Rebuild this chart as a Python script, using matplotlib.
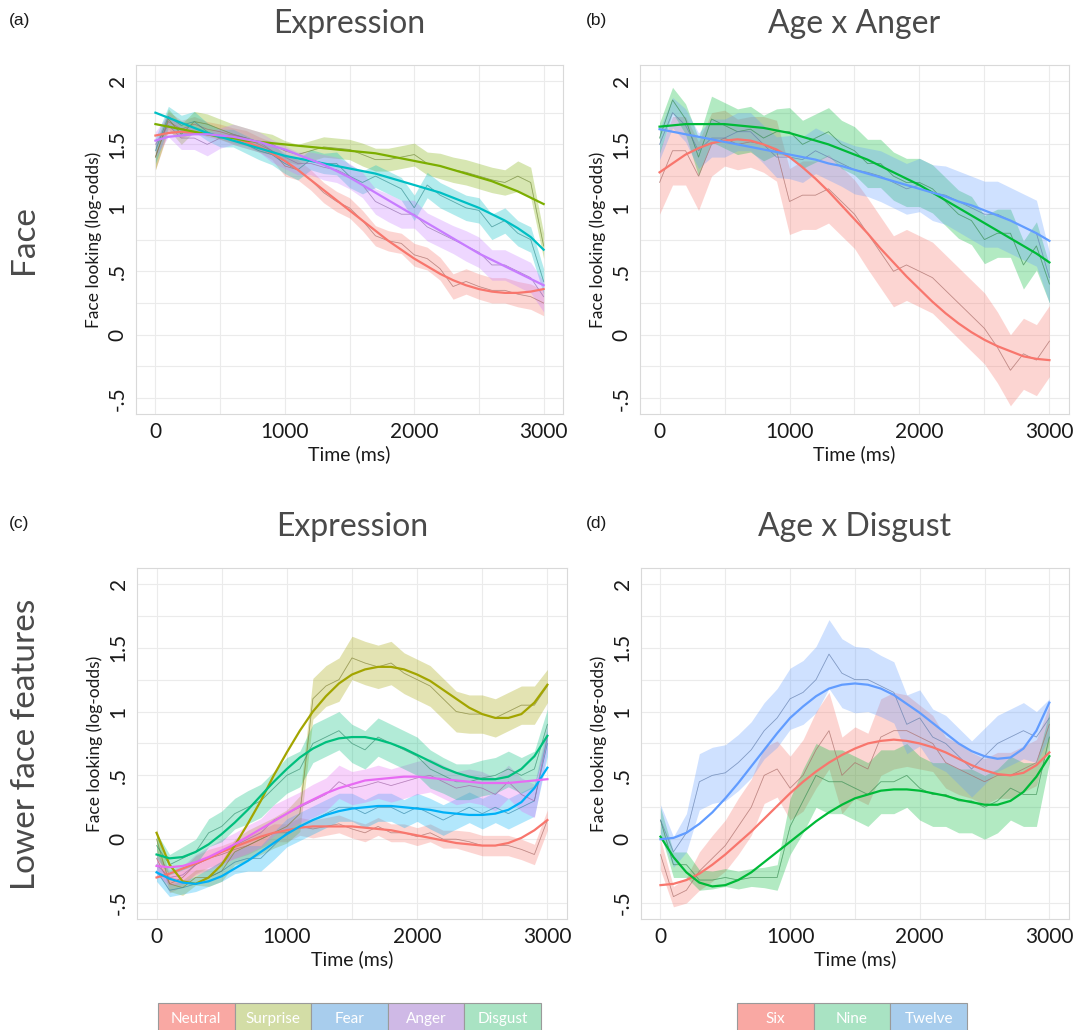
import numpy as np
import matplotlib
matplotlib.use("Agg")
import matplotlib.pyplot as plt
from matplotlib.patches import Rectangle

plt.rcParams['font.family'] = ['Lato', 'DejaVu Sans']

# time grid (ms)
time = np.arange(0, 3001, 100)

# ---------------- panel (a): Face, Expression ----------------
a_neutral_mean = [1.40, 1.68, 1.62, 1.66, 1.62, 1.60, 1.57, 1.55, 1.50, 1.45, 1.33, 1.30, 1.22, 1.12, 1.05, 1.00,
                  0.90, 0.78, 0.74, 0.72, 0.63, 0.60, 0.52, 0.38, 0.42, 0.38, 0.35, 0.35, 0.32, 0.30, 0.25]
a_neutral_se = [0.10, 0.08, 0.07, 0.06, 0.06, 0.06, 0.06, 0.06, 0.06, 0.07, 0.08, 0.08, 0.08, 0.08, 0.08, 0.08,
                0.08, 0.08, 0.08, 0.08, 0.09, 0.09, 0.09, 0.10, 0.10, 0.10, 0.10, 0.10, 0.10, 0.10, 0.10]
a_neutral_fit = [1.57, 1.59, 1.60, 1.59, 1.58, 1.57, 1.55, 1.52, 1.48, 1.43, 1.37, 1.30, 1.22, 1.14, 1.06, 0.98,
                 0.90, 0.82, 0.74, 0.67, 0.60, 0.54, 0.48, 0.43, 0.39, 0.36, 0.34, 0.33, 0.33, 0.34, 0.36]

a_surprise_mean = [1.40, 1.70, 1.58, 1.68, 1.66, 1.62, 1.58, 1.55, 1.52, 1.50, 1.45, 1.42, 1.45, 1.48, 1.47, 1.46,
                   1.42, 1.38, 1.38, 1.40, 1.42, 1.35, 1.33, 1.30, 1.28, 1.25, 1.22, 1.20, 1.25, 1.20, 0.70]
a_surprise_se = [0.10, 0.08, 0.08, 0.08, 0.08, 0.08, 0.08, 0.08, 0.08, 0.08, 0.08, 0.08, 0.08, 0.08, 0.08, 0.08,
                 0.09, 0.09, 0.09, 0.09, 0.09, 0.09, 0.10, 0.10, 0.10, 0.10, 0.10, 0.10, 0.12, 0.12, 0.10]
a_surprise_fit = [1.66, 1.64, 1.62, 1.60, 1.58, 1.56, 1.55, 1.53, 1.52, 1.51, 1.50, 1.49, 1.48, 1.47, 1.46, 1.45,
                  1.44, 1.43, 1.41, 1.39, 1.37, 1.35, 1.33, 1.30, 1.27, 1.24, 1.21, 1.17, 1.13, 1.08, 1.03]

a_fear_mean = [1.45, 1.72, 1.65, 1.68, 1.60, 1.55, 1.55, 1.50, 1.45, 1.42, 1.35, 1.30, 1.38, 1.35, 1.35, 1.25,
               1.20, 1.25, 1.20, 1.15, 1.00, 1.18, 1.10, 1.05, 1.00, 0.98, 0.85, 0.90, 0.80, 0.75, 0.42]
a_fear_se = [0.10, 0.08, 0.08, 0.08, 0.07, 0.07, 0.07, 0.07, 0.07, 0.08, 0.08, 0.08, 0.08, 0.08, 0.09, 0.09,
             0.09, 0.09, 0.09, 0.09, 0.10, 0.10, 0.10, 0.10, 0.10, 0.10, 0.10, 0.10, 0.10, 0.10, 0.10]
a_fear_fit = [1.75, 1.71, 1.67, 1.63, 1.59, 1.56, 1.53, 1.50, 1.47, 1.44, 1.41, 1.39, 1.37, 1.35, 1.33, 1.31,
              1.29, 1.27, 1.24, 1.21, 1.18, 1.15, 1.12, 1.08, 1.04, 1.00, 0.95, 0.90, 0.84, 0.77, 0.67]

a_anger_mean = [1.50, 1.65, 1.55, 1.55, 1.50, 1.55, 1.58, 1.55, 1.52, 1.45, 1.40, 1.35, 1.35, 1.32, 1.30, 1.25,
                1.18, 1.05, 1.00, 0.95, 0.95, 0.85, 0.80, 0.75, 0.70, 0.65, 0.55, 0.55, 0.50, 0.45, 0.30]
a_anger_se = [0.10, 0.09, 0.09, 0.09, 0.09, 0.08, 0.08, 0.08, 0.08, 0.09, 0.09, 0.09, 0.09, 0.10, 0.10, 0.10,
              0.10, 0.10, 0.11, 0.11, 0.11, 0.11, 0.11, 0.11, 0.12, 0.12, 0.12, 0.12, 0.12, 0.12, 0.12]
a_anger_fit = [1.53, 1.56, 1.57, 1.58, 1.58, 1.57, 1.56, 1.54, 1.52, 1.49, 1.46, 1.42, 1.38, 1.34, 1.29, 1.24,
               1.18, 1.12, 1.06, 1.00, 0.94, 0.88, 0.82, 0.76, 0.70, 0.64, 0.59, 0.54, 0.49, 0.44, 0.39]

# ---------------- panel (b): Face, Age x Anger ----------------
b_six_mean = [1.20, 1.45, 1.45, 1.25, 1.50, 1.55, 1.50, 1.52, 1.50, 1.45, 1.05, 1.10, 1.10, 1.15, 1.05, 0.95,
              0.80, 0.65, 0.50, 0.55, 0.50, 0.45, 0.35, 0.25, 0.15, 0.05, -0.10, -0.28, -0.15, -0.20, -0.05]
b_six_se = [0.25, 0.27, 0.27, 0.27, 0.25, 0.22, 0.20, 0.20, 0.22, 0.24, 0.26, 0.27, 0.27, 0.27, 0.27, 0.27,
            0.28, 0.28, 0.28, 0.28, 0.28, 0.28, 0.28, 0.28, 0.28, 0.28, 0.28, 0.28, 0.28, 0.28, 0.28]
b_six_fit = [1.28, 1.35, 1.42, 1.47, 1.51, 1.53, 1.54, 1.53, 1.50, 1.46, 1.40, 1.32, 1.23, 1.13, 1.02, 0.91,
             0.80, 0.68, 0.57, 0.46, 0.36, 0.26, 0.17, 0.09, 0.02, -0.04, -0.09, -0.13, -0.17, -0.19, -0.20]

b_nine_mean = [1.55, 1.85, 1.70, 1.40, 1.70, 1.65, 1.60, 1.62, 1.55, 1.60, 1.60, 1.50, 1.55, 1.60, 1.50, 1.45,
               1.35, 1.35, 1.25, 1.20, 1.20, 1.15, 1.05, 0.95, 0.90, 0.75, 0.80, 0.80, 0.55, 0.70, 0.40]
b_nine_se = [0.12, 0.10, 0.12, 0.15, 0.18, 0.18, 0.18, 0.18, 0.18, 0.18, 0.19, 0.19, 0.19, 0.19, 0.19, 0.19,
             0.19, 0.19, 0.19, 0.19, 0.19, 0.19, 0.19, 0.19, 0.19, 0.19, 0.19, 0.19, 0.19, 0.19, 0.15]
b_nine_fit = [1.64, 1.65, 1.66, 1.66, 1.66, 1.66, 1.65, 1.64, 1.63, 1.61, 1.59, 1.56, 1.53, 1.50, 1.46, 1.42,
              1.38, 1.33, 1.28, 1.23, 1.18, 1.12, 1.06, 1.00, 0.94, 0.88, 0.82, 0.76, 0.70, 0.64, 0.57]

b_twelve_mean = [1.50, 1.75, 1.65, 1.45, 1.55, 1.55, 1.60, 1.60, 1.50, 1.40, 1.40, 1.38, 1.45, 1.40, 1.35, 1.30,
                 1.28, 1.25, 1.20, 1.15, 1.18, 1.12, 1.10, 1.05, 1.00, 0.95, 0.95, 0.90, 0.85, 0.80, 0.45]
b_twelve_se = [0.12, 0.12, 0.13, 0.14, 0.15, 0.15, 0.15, 0.15, 0.15, 0.16, 0.17, 0.18, 0.18, 0.18, 0.18, 0.19,
               0.19, 0.20, 0.20, 0.20, 0.21, 0.22, 0.23, 0.24, 0.25, 0.26, 0.26, 0.26, 0.26, 0.26, 0.20]
b_twelve_fit = [1.62, 1.60, 1.58, 1.56, 1.54, 1.52, 1.50, 1.48, 1.46, 1.44, 1.42, 1.40, 1.38, 1.35, 1.33, 1.30,
                1.27, 1.24, 1.21, 1.18, 1.15, 1.12, 1.09, 1.05, 1.02, 0.98, 0.94, 0.90, 0.85, 0.80, 0.74]

# ---------------- panel (c): Lower face, Expression ----------------
c_neutral_mean = [-0.15, -0.35, -0.30, -0.20, -0.15, -0.12, -0.08, -0.05, 0.00, 0.05, 0.05, 0.10, 0.08, 0.10, 0.12, 0.08,
                  0.05, 0.10, 0.05, 0.05, 0.02, 0.05, 0.00, 0.00, -0.02, -0.05, -0.05, -0.05, -0.08, -0.12, 0.15]
c_neutral_se = [0.08, 0.07, 0.07, 0.07, 0.07, 0.07, 0.07, 0.07, 0.07, 0.07, 0.07, 0.07, 0.07, 0.07, 0.07, 0.07,
                0.07, 0.07, 0.07, 0.07, 0.07, 0.07, 0.07, 0.07, 0.08, 0.08, 0.08, 0.08, 0.08, 0.08, 0.08]
c_neutral_fit = [-0.30, -0.27, -0.23, -0.19, -0.15, -0.10, -0.06, -0.02, 0.02, 0.05, 0.07, 0.09, 0.10, 0.10, 0.10, 0.10,
                 0.09, 0.08, 0.07, 0.05, 0.03, 0.01, -0.01, -0.03, -0.04, -0.05, -0.05, -0.03, 0.01, 0.07, 0.15]

c_surprise_mean = [0.00, -0.35, -0.38, -0.30, -0.30, -0.25, -0.10, -0.05, 0.00, 0.05, 0.10, 0.20, 1.10, 1.20, 1.25, 1.42,
                   1.38, 1.35, 1.38, 1.30, 1.25, 1.20, 1.10, 1.00, 0.98, 0.98, 0.95, 1.00, 1.05, 1.05, 1.20]
c_surprise_se = [0.08, 0.06, 0.06, 0.06, 0.07, 0.08, 0.10, 0.12, 0.12, 0.12, 0.13, 0.14, 0.16, 0.16, 0.17, 0.17,
                 0.17, 0.17, 0.17, 0.16, 0.16, 0.16, 0.16, 0.16, 0.15, 0.15, 0.15, 0.15, 0.15, 0.15, 0.13]
c_surprise_fit = [0.05, -0.20, -0.33, -0.35, -0.30, -0.20, -0.05, 0.12, 0.30, 0.50, 0.68, 0.85, 1.00, 1.12, 1.22, 1.29,
                  1.33, 1.35, 1.35, 1.33, 1.29, 1.24, 1.17, 1.10, 1.03, 0.98, 0.95, 0.95, 0.98, 1.07, 1.21]

c_fear_mean = [-0.25, -0.40, -0.38, -0.35, -0.30, -0.25, -0.18, -0.15, -0.15, -0.05, 0.05, 0.10, 0.15, 0.20, 0.25, 0.25,
               0.20, 0.25, 0.25, 0.20, 0.25, 0.20, 0.15, 0.20, 0.25, 0.20, 0.25, 0.20, 0.25, 0.30, 0.75]
c_fear_se = [0.08, 0.05, 0.05, 0.06, 0.07, 0.08, 0.09, 0.10, 0.10, 0.11, 0.11, 0.11, 0.11, 0.11, 0.11, 0.11,
             0.11, 0.11, 0.11, 0.11, 0.11, 0.12, 0.12, 0.12, 0.12, 0.12, 0.12, 0.12, 0.12, 0.12, 0.10]
c_fear_fit = [-0.26, -0.31, -0.34, -0.35, -0.33, -0.29, -0.23, -0.17, -0.10, -0.03, 0.04, 0.10, 0.15, 0.19, 0.22, 0.24,
              0.25, 0.26, 0.26, 0.25, 0.24, 0.23, 0.21, 0.20, 0.19, 0.19, 0.20, 0.23, 0.29, 0.40, 0.56]

c_anger_mean = [-0.20, -0.30, -0.28, -0.20, -0.15, -0.10, -0.05, 0.00, 0.05, 0.15, 0.20, 0.25, 0.30, 0.35, 0.45, 0.40,
                0.42, 0.45, 0.42, 0.45, 0.48, 0.50, 0.45, 0.40, 0.42, 0.40, 0.35, 0.45, 0.35, 0.30, 0.80]
c_anger_se = [0.08, 0.06, 0.07, 0.08, 0.09, 0.10, 0.10, 0.11, 0.11, 0.12, 0.12, 0.12, 0.13, 0.13, 0.13, 0.13,
              0.13, 0.13, 0.13, 0.13, 0.13, 0.13, 0.13, 0.13, 0.13, 0.13, 0.13, 0.13, 0.13, 0.13, 0.10]
c_anger_fit = [-0.21, -0.22, -0.21, -0.18, -0.14, -0.09, -0.04, 0.02, 0.08, 0.14, 0.20, 0.26, 0.31, 0.36, 0.40, 0.43,
               0.46, 0.47, 0.48, 0.49, 0.49, 0.48, 0.47, 0.46, 0.45, 0.44, 0.44, 0.44, 0.45, 0.46, 0.47]

c_disgust_mean = [-0.05, -0.20, -0.15, -0.10, 0.05, 0.10, 0.20, 0.25, 0.30, 0.40, 0.50, 0.55, 0.75, 0.80, 0.85, 0.75,
                  0.70, 0.80, 0.75, 0.70, 0.65, 0.55, 0.50, 0.45, 0.45, 0.48, 0.50, 0.55, 0.50, 0.55, 0.90]
c_disgust_se = [0.10, 0.08, 0.09, 0.10, 0.11, 0.12, 0.12, 0.13, 0.13, 0.13, 0.14, 0.14, 0.15, 0.15, 0.15, 0.15,
                0.15, 0.15, 0.15, 0.15, 0.15, 0.15, 0.14, 0.14, 0.14, 0.14, 0.14, 0.14, 0.14, 0.14, 0.12]
c_disgust_fit = [-0.12, -0.15, -0.14, -0.10, -0.04, 0.04, 0.13, 0.23, 0.34, 0.45, 0.55, 0.64, 0.71, 0.76, 0.79, 0.80,
                 0.80, 0.78, 0.75, 0.71, 0.66, 0.61, 0.56, 0.52, 0.49, 0.47, 0.47, 0.49, 0.55, 0.65, 0.81]

# ---------------- panel (d): Lower face, Age x Disgust ----------------
d_six_mean = [-0.12, -0.45, -0.40, -0.25, -0.15, -0.05, 0.10, 0.25, 0.50, 0.55, 0.40, 0.50, 0.70, 0.85, 0.50, 0.60,
              0.55, 0.80, 0.85, 0.85, 0.80, 0.75, 0.60, 0.55, 0.50, 0.45, 0.50, 0.50, 0.55, 0.60, 0.90]
d_six_se = [0.12, 0.08, 0.10, 0.15, 0.18, 0.20, 0.22, 0.22, 0.22, 0.22, 0.25, 0.28, 0.30, 0.30, 0.30, 0.28,
            0.28, 0.30, 0.30, 0.28, 0.25, 0.22, 0.20, 0.20, 0.18, 0.18, 0.18, 0.18, 0.18, 0.18, 0.15]
d_six_fit = [-0.36, -0.35, -0.32, -0.27, -0.20, -0.12, -0.03, 0.06, 0.16, 0.26, 0.36, 0.45, 0.53, 0.60, 0.66, 0.71,
             0.75, 0.77, 0.78, 0.77, 0.75, 0.72, 0.68, 0.63, 0.58, 0.54, 0.51, 0.50, 0.52, 0.58, 0.68]

d_nine_mean = [0.15, -0.20, -0.20, -0.32, -0.32, -0.30, -0.32, -0.30, -0.30, -0.30, 0.10, 0.30, 0.50, 0.45, 0.45, 0.40,
               0.35, 0.45, 0.45, 0.50, 0.40, 0.35, 0.35, 0.30, 0.30, 0.25, 0.30, 0.40, 0.35, 0.35, 0.80]
d_nine_se = [0.10, 0.10, 0.10, 0.08, 0.07, 0.07, 0.07, 0.07, 0.08, 0.10, 0.22, 0.25, 0.25, 0.25, 0.25, 0.25,
             0.25, 0.25, 0.25, 0.25, 0.25, 0.25, 0.25, 0.25, 0.25, 0.25, 0.25, 0.25, 0.25, 0.25, 0.20]
d_nine_fit = [0.02, -0.14, -0.26, -0.34, -0.37, -0.36, -0.32, -0.26, -0.18, -0.10, -0.02, 0.06, 0.14, 0.21, 0.27, 0.32,
              0.35, 0.38, 0.39, 0.39, 0.38, 0.36, 0.34, 0.31, 0.29, 0.27, 0.27, 0.30, 0.37, 0.49, 0.65]

d_twelve_mean = [0.15, -0.10, 0.05, 0.45, 0.50, 0.52, 0.60, 0.70, 0.85, 0.95, 1.10, 1.15, 1.25, 1.45, 1.30, 1.25,
                 1.25, 1.20, 1.15, 0.90, 0.95, 0.80, 0.75, 0.65, 0.55, 0.65, 0.75, 0.80, 0.85, 0.80, 0.95]
d_twelve_se = [0.12, 0.12, 0.15, 0.22, 0.22, 0.22, 0.22, 0.22, 0.22, 0.23, 0.24, 0.25, 0.26, 0.27, 0.27, 0.26,
               0.25, 0.24, 0.24, 0.23, 0.22, 0.22, 0.22, 0.22, 0.22, 0.22, 0.22, 0.22, 0.22, 0.20, 0.15]
d_twelve_fit = [0.00, 0.01, 0.05, 0.12, 0.21, 0.32, 0.44, 0.57, 0.70, 0.83, 0.95, 1.04, 1.12, 1.18, 1.21, 1.22,
                1.21, 1.18, 1.13, 1.06, 0.99, 0.91, 0.83, 0.75, 0.69, 0.65, 0.63, 0.64, 0.71, 0.85, 1.07]

# axis ticks
yticks = [-0.5, 0, 0.5, 1, 1.5, 2]
ytick_labels = ['-.5', '0', '.5', '1', '1.5', '2']
xticks = [0, 1000, 2000, 3000]

# legends
expr_labels = ['Neutral', 'Surprise', 'Fear', 'Anger', 'Disgust']
expr_boxes = ['#F9A8A3', '#D3DDA6', '#A8CDED', '#CFB9E6', '#A9E3C3']
age_labels = ['Six', 'Nine', 'Twelve']
age_boxes = ['#F9A8A3', '#A9E3C3', '#A8CDED']

panels = [
    dict(pos=[0.1256, 0.598, 0.3943, 0.3388], tag='(a)', title='Expression',
         series=[(a_neutral_mean, a_neutral_se, a_neutral_fit, '#F8766D'),
                 (a_surprise_mean, a_surprise_se, a_surprise_fit, '#7CAE00'),
                 (a_fear_mean, a_fear_se, a_fear_fit, '#00BFC4'),
                 (a_anger_mean, a_anger_se, a_anger_fit, '#C77CFF')]),
    dict(pos=[0.591, 0.598, 0.396, 0.3388], tag='(b)', title='Age x Anger',
         series=[(b_six_mean, b_six_se, b_six_fit, '#F8766D'),
                 (b_nine_mean, b_nine_se, b_nine_fit, '#00BA38'),
                 (b_twelve_mean, b_twelve_se, b_twelve_fit, '#619CFF')]),
    dict(pos=[0.1265, 0.1078, 0.397, 0.3408], tag='(c)', title='Expression',
         series=[(c_neutral_mean, c_neutral_se, c_neutral_fit, '#F8766D'),
                 (c_surprise_mean, c_surprise_se, c_surprise_fit, '#A3A500'),
                 (c_fear_mean, c_fear_se, c_fear_fit, '#00B0F6'),
                 (c_anger_mean, c_anger_se, c_anger_fit, '#E76BF3'),
                 (c_disgust_mean, c_disgust_se, c_disgust_fit, '#00BF7D')]),
    dict(pos=[0.5919, 0.1078, 0.395, 0.3408], tag='(d)', title='Age x Disgust',
         series=[(d_six_mean, d_six_se, d_six_fit, '#F8766D'),
                 (d_nine_mean, d_nine_se, d_nine_fit, '#00BA38'),
                 (d_twelve_mean, d_twelve_se, d_twelve_fit, '#619CFF')]),
]

fig = plt.figure(figsize=(10.83, 10.30), dpi=100)

for p in panels:
    ax = fig.add_axes(p['pos'])
    for mean, se, fit, col in p['series']:
        m = np.array(mean)
        s = np.array(se)
        ax.fill_between(time, m - s, m + s, color=col, alpha=0.3, lw=0)
    for mean, se, fit, col in p['series']:
        ax.plot(time, mean, color=col, lw=0.6, alpha=0.45)
        ax.plot(time, mean, color='#666666', lw=0.5, alpha=0.45)
    for mean, se, fit, col in p['series']:
        ax.plot(time, fit, color=col, lw=1.6)

    ax.set_xlim(-150, 3150)
    ax.set_ylim(-0.625, 2.125)
    ax.set_xticks(xticks)
    ax.set_xticks([500, 1500, 2500], minor=True)
    ax.set_yticks(yticks)
    ax.set_yticklabels(ytick_labels)
    ax.set_yticks([-0.25, 0.25, 0.75, 1.25, 1.75], minor=True)
    ax.grid(True, which='both', color='#EBEBEB', lw=0.8)
    ax.set_axisbelow(True)
    for sp in ax.spines.values():
        sp.set_color('#D9D9D9')
        sp.set_linewidth(0.8)
    ax.tick_params(which='both', length=0)
    ax.tick_params(axis='x', labelsize=15, colors='#1a1a1a', pad=6)
    ax.tick_params(axis='y', labelsize=15, colors='#1a1a1a', pad=6, labelrotation=90)
    for lab in ax.get_yticklabels():
        lab.set_va('center')
    ax.set_xlabel('Time (ms)', fontsize=14, color='#1a1a1a', labelpad=2)
    ax.set_ylabel('Face looking (log-odds)', fontsize=12.5, color='#1a1a1a', labelpad=4)

    x0, y0, w, h = p['pos']
    fig.text(x0 + w / 2, y0 + h + 0.04, p['title'], ha='center', va='center',
             fontsize=23, color='#4a4a4a')
    tag_x = 0.008 if x0 < 0.5 else 0.541
    fig.text(tag_x, y0 + h + 0.043, p['tag'], ha='left', va='center',
             fontsize=12.5, color='#1a1a1a', family='Liberation Sans')

# row labels
fig.text(0.022, 0.767, 'Face', rotation=90, ha='center', va='center', fontsize=24, color='#4a4a4a')
fig.text(0.024, 0.277, 'Lower face features', rotation=90, ha='center', va='center', fontsize=24,
         color='#4a4a4a')


def draw_legend(labels, colors, x_left, box_w):
    for i, (lab, col) in enumerate(zip(labels, colors)):
        x = x_left + i * box_w
        fig.patches.append(Rectangle((x, -0.01), box_w, 0.036, transform=fig.transFigure,
                                     facecolor=col, edgecolor='#9A9A9A', lw=0.8))
        fig.text(x + box_w / 2, 0.011, lab, ha='center', va='center', fontsize=11, color='white')


draw_legend(expr_labels, expr_boxes, 158 / 1083, 76.6 / 1083)
draw_legend(age_labels, age_boxes, 737 / 1083, 76.7 / 1083)

fig.savefig('out.png', dpi=100)
